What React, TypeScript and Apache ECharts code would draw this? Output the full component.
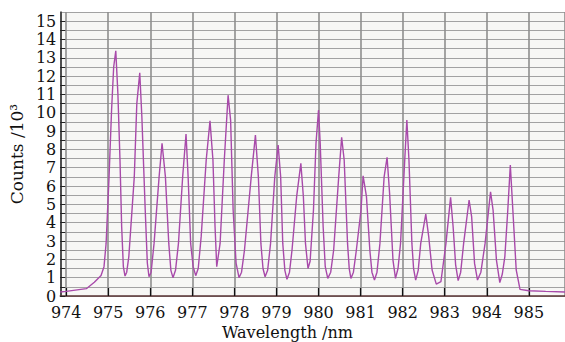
import { useEffect, useRef } from 'react';
import * as echarts from 'echarts';

const wavelengths = [
  973.86, 974.0, 974.48, 974.67, 974.83, 974.9, 974.95, 975.02, 975.08, 975.13, 975.18, 975.23, 975.28, 975.32,
  975.36, 975.4, 975.44, 975.49, 975.62, 975.68, 975.75, 975.8, 975.88, 975.93, 975.97, 976.02, 976.09,
  976.21, 976.28, 976.36, 976.44, 976.49, 976.54, 976.6, 976.67, 976.77, 976.85, 976.9, 976.96, 977.02,
  977.08, 977.14, 977.21, 977.33, 977.42, 977.49, 977.54, 977.58, 977.66, 977.76, 977.85, 977.91, 977.97,
  978.04, 978.11, 978.17, 978.24, 978.4, 978.5, 978.57, 978.63, 978.68, 978.73, 978.79, 978.86, 978.96,
  979.04, 979.1, 979.15, 979.2, 979.25, 979.31, 979.37, 979.48, 979.58, 979.64, 979.69, 979.75, 979.8,
  979.88, 979.94, 980.0, 980.04, 980.11, 980.16, 980.22, 980.29, 980.36, 980.48, 980.55, 980.61, 980.69,
  980.73, 980.77, 980.83, 980.9, 981.01, 981.06, 981.14, 981.22, 981.27, 981.33, 981.39, 981.46, 981.56,
  981.63, 981.69, 981.77, 981.83, 981.89, 981.95, 982.05, 982.1, 982.15, 982.22, 982.26, 982.31, 982.37,
  982.43, 982.55, 982.62, 982.7, 982.8, 982.91, 983.03, 983.14, 983.2, 983.26, 983.32, 983.38, 983.45,
  983.58, 983.64, 983.71, 983.78, 983.86, 983.96, 984.09, 984.15, 984.23, 984.31, 984.37, 984.43, 984.5,
  984.56, 984.62, 984.7, 984.79, 985.0, 985.4, 985.86,
];

const counts = [
  0.22, 0.25, 0.4, 0.75, 1.12, 1.6, 2.87, 6.5, 10.15, 12.5, 13.38, 11.06, 7.42, 3.78,
  1.6, 1.09, 1.3, 2.15, 6.5, 10.5, 12.18, 9.78, 4.69, 1.8, 1.05, 1.3, 2.87,
  6.5, 8.33, 6.5, 2.87, 1.4, 1.0, 1.4, 2.87, 6.5, 8.84, 6.5, 2.87, 1.6,
  1.11, 1.5, 3.24, 7.42, 9.56, 7.42, 3.78, 1.6, 2.87, 7.42, 10.96, 9.6, 4.69,
  1.8, 1.0, 1.3, 2.51, 6.5, 8.78, 6.5, 2.87, 1.5, 1.05, 1.4, 2.87, 6.5,
  8.24, 6.5, 2.87, 1.4, 0.91, 1.3, 2.51, 5.42, 7.24, 5.42, 2.87, 1.5, 1.9,
  4.69, 8.33, 10.15, 8.33, 3.78, 1.6, 0.96, 1.3, 2.51, 6.5, 8.66, 7.42, 2.87,
  1.5, 0.96, 1.3, 2.51, 4.69, 6.56, 5.42, 2.51, 1.3, 0.87, 1.3, 2.87, 6.5,
  7.57, 5.6, 1.96, 0.96, 1.5, 2.87, 7.42, 9.6, 7.42, 2.87, 1.5, 0.87, 1.4,
  2.87, 4.47, 3.24, 1.42, 0.65, 0.78, 2.87, 5.38, 3.78, 1.7, 0.84, 1.3, 2.87,
  5.24, 4.33, 1.78, 0.87, 1.3, 2.87, 5.69, 4.69, 1.96, 0.73, 1.2, 2.15, 4.69,
  7.15, 4.69, 1.42, 0.36, 0.29, 0.25, 0.22,
];

const X_MIN = 973.86;
const X_MAX = 985.86;
const Y_MIN = 0;
const Y_MAX = 15.5;

const FONT = "'DejaVu Serif', serif";

export default function App() {
  const ref = useRef<HTMLDivElement>(null);

  useEffect(() => {
    if (!ref.current) return;
    const chart = echarts.init(ref.current, null, { renderer: 'svg' });
    const data = wavelengths.map((w, i) => [w, counts[i]]);
    chart.setOption({
      animation: false,
      backgroundColor: '#ffffff',
      grid: {
        left: 55,
        right: -5,
        top: 12,
        bottom: 46,
        show: true,
        backgroundColor: '#f7f7f5',
        borderWidth: 0,
      },
      xAxis: {
        type: 'value',
        min: X_MIN,
        max: X_MAX,
        minInterval: 1,
        maxInterval: 1,
        splitNumber: 12,
        axisLine: { show: true, onZero: false, lineStyle: { color: '#5a3434', width: 1.5 } },
        axisTick: { show: true, inside: true, length: 8, lineStyle: { color: '#111', width: 1.2 } },
        axisLabel: {
          showMinLabel: false,
          showMaxLabel: false,
          margin: 8,
          color: '#111',
          fontFamily: FONT,
          fontSize: 16,
          lineHeight: 16,
        },
        splitLine: { show: true, lineStyle: { color: '#8e8e8e', width: 1.6 } },
      },
      yAxis: {
        type: 'value',
        min: Y_MIN,
        max: Y_MAX,
        interval: 0.5,
        name: 'Counts /10³',
        nameLocation: 'middle',
        nameRotate: 90,
        nameGap: 27,
        nameTextStyle: { color: '#111', fontFamily: FONT, fontSize: 17 },
        axisLine: { show: true, lineStyle: { color: '#333', width: 1.5 } },
        axisTick: { show: true, inside: true, length: 5, lineStyle: { color: '#222', width: 1 } },
        axisLabel: {
          margin: 4,
          color: '#111',
          fontFamily: FONT,
          fontSize: 16,
          lineHeight: 14,
          showMaxLabel: false,
          formatter: (v: number) => (Number.isInteger(v) ? String(v) : ''),
        },
        splitLine: { show: true, lineStyle: { color: '#a2a2a2', width: 1.1 } },
      },
      graphic: [
        {
          type: 'text',
          left: 222,
          top: 324,
          style: {
            text: 'Wavelength /nm',
            fill: '#111',
            font: `16px ${FONT}`,
          },
        },
      ],
      series: [
        {
          type: 'line',
          data,
          showSymbol: false,
          lineStyle: { color: '#a84aaa', width: 1.4 },
        },
      ],
    });
    return () => chart.dispose();
  }, []);

  return (
    <div
      ref={ref}
      style={{ position: 'fixed', left: 0, top: 0, width: 565, height: 342 }}
    />
  );
}
